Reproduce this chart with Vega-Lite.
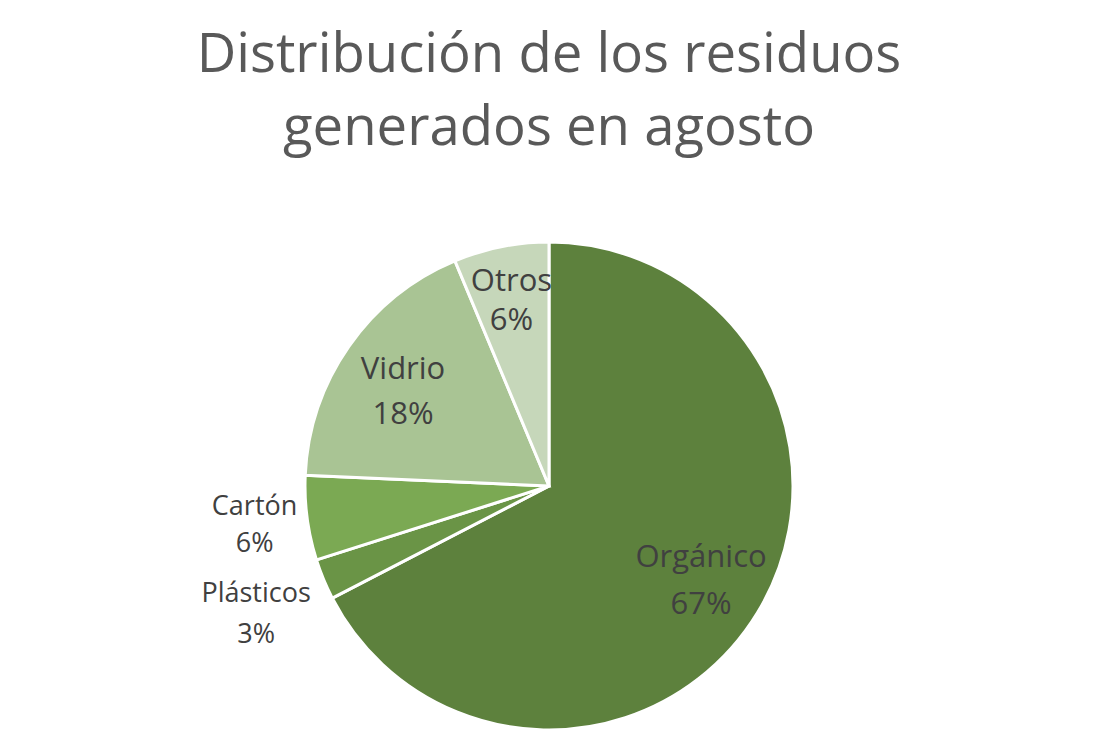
{
  "$schema": "https://vega.github.io/schema/vega-lite/v6.json",
  "description": "Distribución de los residuos generados en agosto (gráfico circular).",
  "data": {
    "values": [
      {"residuo": "Orgánico", "pct": 67.4, "n": 1, "label": ["Orgánico", "67%"]},
      {"residuo": "Plásticos", "pct": 2.7, "n": 2, "label": ["Plásticos", "3%"]},
      {"residuo": "Cartón", "pct": 5.6, "n": 3, "label": ["Cartón", "6%"]},
      {"residuo": "Vidrio", "pct": 18.0, "n": 4, "label": ["Vidrio", "18%"]},
      {"residuo": "Otros", "pct": 6.3, "n": 5, "label": ["Otros", "6%"]}
    ]
  },
  "width": 1098,
  "height": 538,
  "padding": {"left": 0, "right": 0, "top": 27, "bottom": 0},
  "title": {
    "text": ["Distribución de los residuos", "generados en agosto"],
    "font": "Open Sans",
    "fontSize": 54.5,
    "fontWeight": "normal",
    "lineHeight": 73,
    "color": "#595959",
    "anchor": "middle",
    "frame": "group",
    "offset": -8
  },
  "encoding": {
    "theta": {"field": "pct", "type": "quantitative", "stack": true},
    "order": {"field": "n", "type": "quantitative"}
  },
  "layer": [
    {
      "mark": {"type": "arc", "outerRadius": 244, "stroke": "white", "strokeWidth": 3},
      "encoding": {
        "color": {
          "field": "residuo",
          "type": "nominal",
          "scale": {
            "domain": ["Orgánico", "Plásticos", "Cartón", "Vidrio", "Otros"],
            "range": ["#5D813D", "#6A9446", "#7BA953", "#A9C494", "#C6D7BA"]
          },
          "legend": null
        }
      }
    },
    {
      "mark": {"type": "text", "radius": 178, "font": "Open Sans", "fontSize": 31, "lineHeight": 47, "dy": -21, "color": "#404040", "baseline": "middle"},
      "encoding": {
        "text": {"condition": {"test": "datum.residuo === 'Orgánico'", "field": "label"}, "value": ""}
      }
    },
    {
      "mark": {"type": "text", "radius": 178, "font": "Open Sans", "fontSize": 31, "lineHeight": 45, "dy": -14, "color": "#404040", "baseline": "middle"},
      "encoding": {
        "text": {"condition": {"test": "datum.residuo === 'Vidrio'", "field": "label"}, "value": ""}
      }
    },
    {
      "mark": {"type": "text", "radius": 191, "font": "Open Sans", "fontSize": 31, "lineHeight": 39, "dy": -17, "color": "#404040", "baseline": "middle"},
      "encoding": {
        "text": {"condition": {"test": "datum.residuo === 'Otros'", "field": "label"}, "value": ""}
      }
    },
    {
      "mark": {"type": "text", "radius": 297, "font": "Open Sans", "fontSize": 27, "lineHeight": 37, "dy": -18, "color": "#404040", "baseline": "middle"},
      "encoding": {
        "text": {"condition": {"test": "datum.residuo === 'Cartón'", "field": "label"}, "value": ""}
      }
    },
    {
      "mark": {"type": "text", "radius": 317, "font": "Open Sans", "fontSize": 27, "lineHeight": 41, "dy": -13, "color": "#404040", "baseline": "middle"},
      "encoding": {
        "text": {"condition": {"test": "datum.residuo === 'Plásticos'", "field": "label"}, "value": ""}
      }
    }
  ],
  "config": {"view": {"stroke": null}}
}
